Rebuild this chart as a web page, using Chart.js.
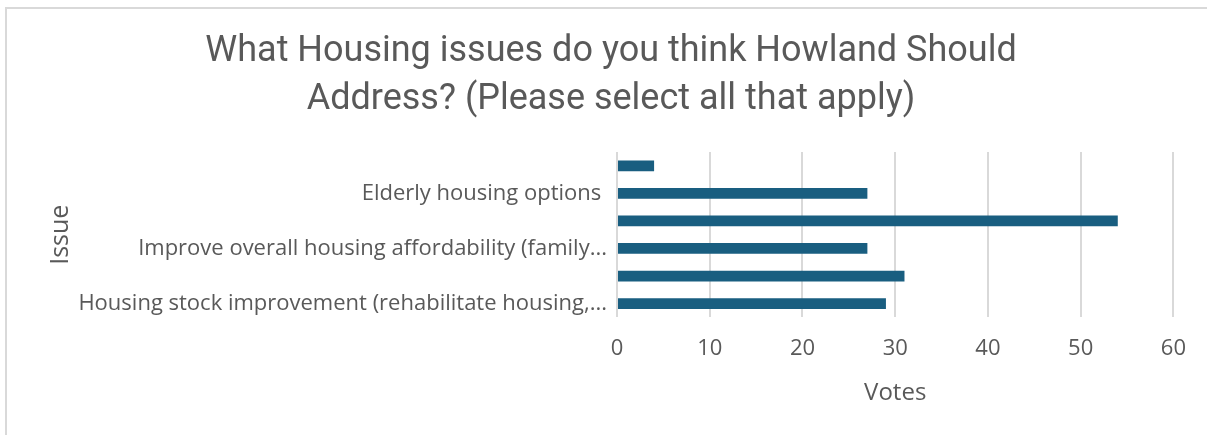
<!DOCTYPE html>
<html>
<head>
<meta charset="utf-8">
<script src="https://cdn.jsdelivr.net/npm/chart.js@4"></script>
<style>
  body { margin: 0; background: #fff; }
  #wrap { position: relative; width: 1207px; height: 435px; }
  #frame {
    position: absolute; left: 5px; top: 7px; width: 1210px; height: 440px;
    border-left: 2px solid #d9d9d9; border-top: 2px solid #d9d9d9;
    pointer-events: none;
  }
</style>
</head>
<body>
<div id="wrap">
  <canvas id="myChart" width="1207" height="435"></canvas>
  <div id="frame"></div>
</div>
<script>
// bottom to top, as in the original; unlabeled rows are skipped in the source
const issues = [
  "Housing stock improvement (rehabilitate housing,...",
  "",
  "Improve overall housing affordability (family...",
  "",
  "Elderly housing options ",
  ""
];
const votes = [29, 31, 27, 54, 27, 4];
const voteTicks = [0, 10, 20, 30, 40, 50, 60];

const titleLines = [
  "What Housing issues do you think Howland Should",
  "Address? (Please select all that apply)"
];

function renderChart(ctx) {
  new Chart(ctx, {
    type: "bar",
    data: {
      labels: issues,
      datasets: [
        {
          data: votes,
          backgroundColor: "#195e80",
          borderWidth: 0,
          barPercentage: 0.39,
          categoryPercentage: 1,
        },
      ],
    },
    options: {
      indexAxis: "y",
      responsive: false,
      animation: false,
      layout: { padding: { left: 46, right: 31, top: 0, bottom: 27 } },
      plugins: {
        legend: { display: false },
        tooltip: { enabled: false },
        title: {
          display: true,
          text: titleLines,
          color: "#595959",
          font: { family: "Roboto, sans-serif", size: 36, weight: "normal", lineHeight: 1.333 },
          padding: { top: 28, bottom: 28 },
        },
      },
      scales: {
        y: {
          reverse: true,
          grid: { display: false },
          border: { display: false },
          ticks: {
            color: "#595959",
            font: { family: "'Open Sans', sans-serif", size: 22 },
            padding: 2,
            autoSkip: false,
          },
          title: {
            display: true,
            text: "Issue",
            color: "#595959",
            font: { family: "'Open Sans', sans-serif", size: 25 },
            padding: 0,
          },
          afterFit: (scale) => { scale.width = 617 - 46; },
        },
        x: {
          min: voteTicks[0],
          max: voteTicks[voteTicks.length - 1],
          afterBuildTicks: (scale) => { scale.ticks = voteTicks.map((v) => ({ value: v })); },
          grid: { color: "#d9d9d9", lineWidth: 2, drawTicks: false },
          border: { display: false },
          ticks: {
            color: "#595959",
            font: { family: "'Open Sans', sans-serif", size: 22, lineHeight: 0.9 },
            padding: 21,
          },
          title: {
            display: true,
            text: "Votes",
            color: "#595959",
            font: { family: "'Open Sans', sans-serif", size: 24 },
            padding: { top: 0, bottom: 0 },
          },
        },
      },
    },
  });
}

function setup() {
  const ctx = document.getElementById("myChart").getContext("2d");
  renderChart(ctx);
}

window.addEventListener("load", setup);
</script>
</body>
</html>
